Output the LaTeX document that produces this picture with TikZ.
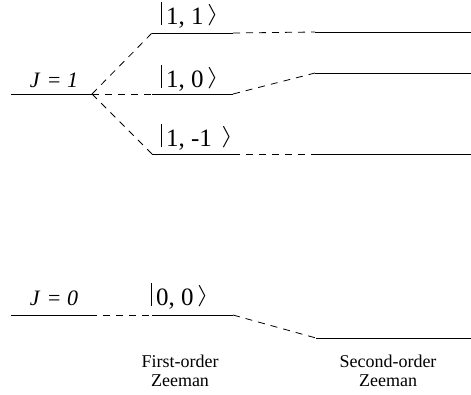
\documentclass[tikz,border=0pt]{standalone}
\usepackage{fontspec}
\setmainfont{Liberation Serif}
\usepackage{tikz}

% ket label: tall bar, state numbers, tall angle bracket
\newcommand{\ketlab}[2]{\raisebox{-1pt}{\rule{0.7pt}{23pt}}\hspace{4pt}#1, #2\hspace{3.5pt}\raisebox{4pt}{\scalebox{1.2}[0.86]{$\rangle$}}}

\begin{document}
\begin{tikzpicture}[x=1pt,y=-1pt,line width=0.8pt]
\tikzset{
  enline/.style={draw=black},
  zshift/.style={draw=black,dash pattern=on 7pt off 6pt},
  ketfont/.style={font=\fontsize{25}{28}\selectfont,inner sep=0pt},
  jfont/.style={font=\fontsize{22}{24}\selectfont,inner sep=0pt},
  captext/.style={font=\fontsize{18}{19}\selectfont,align=center,inner sep=0pt}
}
\useasboundingbox (0,0) rectangle (471,394);

%Define level end points: zero field, first order, second order
\coordinate (Jol) at (11,94);
\coordinate (Jor) at (92,94);
\coordinate (Jzl) at (11,315);
\coordinate (Jzr) at (90,315);

\coordinate (Pl) at (152,33);
\coordinate (Pr) at (233,33);
\coordinate (Zl) at (152,94);
\coordinate (Zr) at (233,94);
\coordinate (Ml) at (152,154);
\coordinate (Mr) at (233,154);
\coordinate (Ol) at (152,315);
\coordinate (Or) at (233,315);

\coordinate (SPl) at (315,32);
\coordinate (SPr) at (471,32);
\coordinate (SZl) at (315,73);
\coordinate (SZr) at (471,73);
\coordinate (SMl) at (315,154);
\coordinate (SMr) at (471,154);
\coordinate (SOl) at (316,338);
\coordinate (SOr) at (471,338);

% Draw the levels
\draw[enline] (Jol) -- (Jor);
\draw[enline] (Jzl) -- (Jzr);
\draw[enline] (Pl) -- (Pr);
\draw[enline] (Zl) -- (Zr);
\draw[enline] (Ml) -- (Mr);
\draw[enline] (Ol) -- (Or);
\draw[enline] (SPl) -- (SPr);
\draw[enline] (SZl) -- (SZr);
\draw[enline] (SMl) -- (SMr);
\draw[enline] (SOl) -- (SOr);

%Dashed shifts between the columns
\draw[zshift] (Jor) -- (Pl);
\draw[zshift] (Jor) -- (Zl);
\draw[zshift] (Jor) -- (Ml);
\draw[zshift] (Jzr) -- (Ol);
\draw[zshift] (Pr) -- (SPl);
\draw[zshift] (Zr) -- (SZl);
\draw[zshift] (Mr) -- (SMl);
\draw[zshift] (Or) -- (SOl);

%Labels
\node[jfont,anchor=base] (lJo) at (54,87) {\textit{J}\hspace{0.35em}=\hspace{0.3em}\textit{1}};
\node[jfont,anchor=base] (lJz) at (54,305) {\textit{J}\hspace{0.35em}=\hspace{0.3em}\textit{0}};
\node[ketfont,anchor=base west] (lP) at (161,24) {\ketlab{1}{1}};
\node[ketfont,anchor=base west] (lZ) at (161,87) {\ketlab{1}{0}};
\node[ketfont,anchor=base west] (lM) at (161,146) {\ketlab{1}{-1\hspace{6pt}}};
\node[ketfont,anchor=base west] (lO) at (151,305) {\ketlab{0}{0}};
\node[captext,anchor=base] (lF) at (180,386) {First-order\\ Zeeman};
\node[captext,anchor=base] (lS) at (388,386) {Second-order\\ Zeeman};

\end{tikzpicture}
\end{document}
